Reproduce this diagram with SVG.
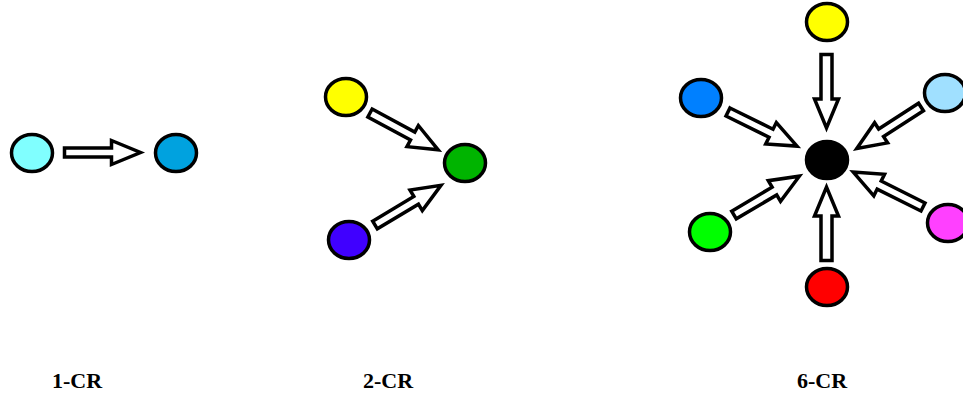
<svg xmlns="http://www.w3.org/2000/svg" width="963" height="398" viewBox="0 0 963 398">
  <style>
    .node { stroke: #000; stroke-width: 3.5; }
    .arrow { fill: #fff; stroke: #000; stroke-width: 3.5; stroke-linejoin: miter; stroke-miterlimit: 10; }
    .label { font-family: "Liberation Serif", "Times New Roman", serif; font-weight: bold; font-size: 22px; fill: #000; text-anchor: middle; }
  </style>
  <rect width="963" height="398" fill="#fff"/>

  <!-- block arrows: tail at the origin, pointing along +x -->
  <g id="connectors">
    <polygon class="arrow" transform="translate(64.5,152.5)" points="0,-4.5 47,-4.5 47,-12 76,0 47,12 47,4.5 0,4.5"/>
    <polygon class="arrow" transform="translate(370,113) rotate(28.4)" points="0,-4.5 48.5,-4.5 48.5,-12 77.5,0 48.5,12 48.5,4.5 0,4.5"/>
    <polygon class="arrow" transform="translate(375,225) rotate(-31)" points="0,-4.5 48,-4.5 48,-12 77,0 48,12 48,4.5 0,4.5"/>
    <polygon class="arrow" transform="translate(826.5,54.5) rotate(90)" points="0,-5.5 44.5,-5.5 44.5,-12 73.5,0 44.5,12 44.5,5.5 0,5.5"/>
    <polygon class="arrow" transform="translate(826.5,260.5) rotate(-90)" points="0,-5.5 44.5,-5.5 44.5,-12 73.5,0 44.5,12 44.5,5.5 0,5.5"/>
    <polygon class="arrow" transform="translate(728,112) rotate(26.3)" points="0,-4.5 48,-4.5 48,-12 77,0 48,12 48,4.5 0,4.5"/>
    <polygon class="arrow" transform="translate(921,107) rotate(147.1)" points="0,-4.5 47.5,-4.5 47.5,-12 76.5,0 47.5,12 47.5,4.5 0,4.5"/>
    <polygon class="arrow" transform="translate(734,215) rotate(-30.7)" points="0,-4.5 47,-4.5 47,-12 76,0 47,12 47,4.5 0,4.5"/>
    <polygon class="arrow" transform="translate(923,207) rotate(206.6)" points="0,-4.5 49,-4.5 49,-12 78,0 49,12 49,4.5 0,4.5"/>
  </g>

  <!-- 1-CR -->
  <g id="cr1-source"><ellipse class="node" cx="32" cy="153" rx="20.5" ry="18.5" fill="#80FFFF"/></g>
  <g id="cr1-target"><ellipse class="node" cx="176" cy="153" rx="20.5" ry="18.5" fill="#00A2DF"/></g>

  <!-- 2-CR -->
  <g id="cr2-yellow"><ellipse class="node" cx="346" cy="97" rx="20.5" ry="18.5" fill="#FFFF00"/></g>
  <g id="cr2-purple"><ellipse class="node" cx="349" cy="240" rx="20.5" ry="18.5" fill="#4000FF"/></g>
  <g id="cr2-target"><ellipse class="node" cx="465" cy="163" rx="20.5" ry="18.5" fill="#00B400"/></g>

  <!-- 6-CR -->
  <g id="cr6-yellow"><ellipse class="node" cx="827" cy="22" rx="20.5" ry="18.5" fill="#FFFF00"/></g>
  <g id="cr6-blue"><ellipse class="node" cx="701" cy="98" rx="20.5" ry="18.5" fill="#0080FF"/></g>
  <g id="cr6-lightblue"><ellipse class="node" cx="945" cy="93" rx="20.5" ry="18.5" fill="#A0E0FF"/></g>
  <g id="cr6-green"><ellipse class="node" cx="710" cy="232" rx="20.5" ry="18.5" fill="#00FF00"/></g>
  <g id="cr6-magenta"><ellipse class="node" cx="948" cy="223" rx="20.5" ry="18.5" fill="#FF40FF"/></g>
  <g id="cr6-red"><ellipse class="node" cx="827" cy="287" rx="20.5" ry="18.5" fill="#FF0000"/></g>
  <g id="cr6-center"><ellipse class="node" cx="827" cy="160" rx="20.5" ry="18.5" fill="#000000"/></g>

  <!-- captions -->
  <g id="captions">
    <text class="label" x="77" y="388">1-CR</text>
    <text class="label" x="388" y="388">2-CR</text>
    <text class="label" x="822" y="388">6-CR</text>
  </g>
</svg>
